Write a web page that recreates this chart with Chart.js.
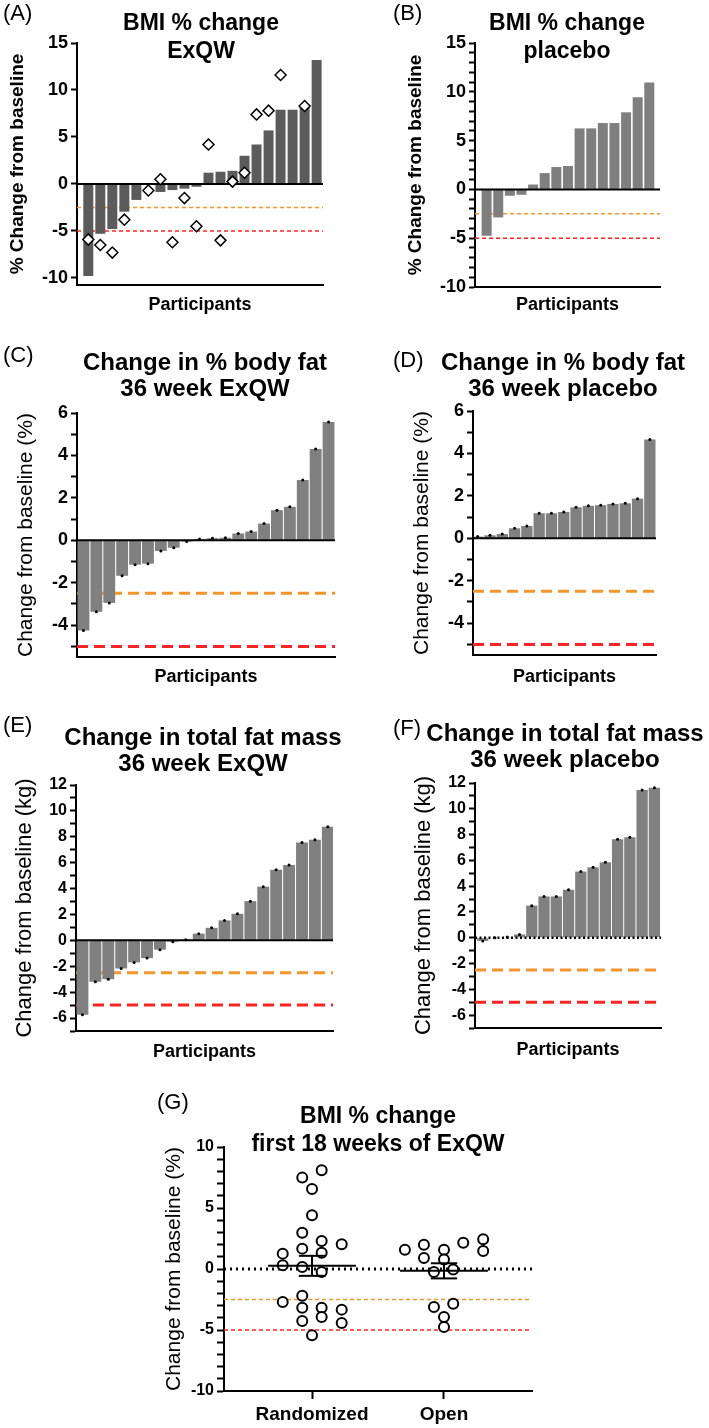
<!DOCTYPE html>
<html>
<head>
<meta charset="utf-8">
<title>Change from baseline by participant</title>
<script src="https://cdn.jsdelivr.net/npm/chart.js@4.4.1/dist/chart.umd.min.js"></script>
<style>
  body { margin: 0; background: #fff; font-family: "Liberation Sans", Arial, sans-serif; }
  #fig { position: relative; width: 709px; height: 1428px; overflow: hidden; }
  #fig canvas { position: absolute; }
  .tag { position: absolute; font-size: 22px; line-height: 24px; color: #000; }
  .head { position: absolute; font-weight: bold; font-size: 23px; line-height: 28px; text-align: center; white-space: nowrap; transform: translateX(-50%); color: #000; }
  .head.big { font-size: 24px; line-height: 26px; }
</style>
</head>
<body>
<div id="fig">
  <canvas id="chA" width="340" height="320" style="left:0;top:0"></canvas>
  <canvas id="chB" width="369" height="320" style="left:340px;top:0"></canvas>
  <canvas id="chC" width="340" height="375" style="left:0;top:320px"></canvas>
  <canvas id="chD" width="369" height="375" style="left:340px;top:320px"></canvas>
  <canvas id="chE" width="340" height="375" style="left:0;top:695px"></canvas>
  <canvas id="chF" width="369" height="375" style="left:340px;top:695px"></canvas>
  <canvas id="chG" width="420" height="358" style="left:150px;top:1070px"></canvas>

  <div class="tag" style="left:3px;top:1px">(A)</div>
  <div class="head" style="left:201px;top:8px">BMI % change<br>ExQW</div>
  <div class="tag" style="left:393px;top:1px">(B)</div>
  <div class="head" style="left:567px;top:8px">BMI % change<br>placebo</div>

  <div class="tag" style="left:3px;top:343px">(C)</div>
  <div class="head big" style="left:205px;top:349px">Change in % body fat<br>36 week ExQW</div>
  <div class="tag" style="left:393px;top:348px">(D)</div>
  <div class="head big" style="left:563px;top:349px">Change in % body fat<br>36 week placebo</div>

  <div class="tag" style="left:3px;top:713px">(E)</div>
  <div class="head big" style="left:203px;top:724px">Change in total fat mass<br>36 week ExQW</div>
  <div class="tag" style="left:393px;top:716px">(F)</div>
  <div class="head big" style="left:565px;top:720px">Change in total fat mass<br>36 week placebo</div>

  <div class="tag" style="left:157px;top:1090px">(G)</div>
  <div class="head" style="left:378px;top:1101px">BMI % change<br>first 18 weeks of ExQW</div>
</div>

<script>
// participants are sorted by change, one value per bar
const bmiExqw = [-9.8, -5.3, -4.8, -2.95, -1.7, null, -0.85, -0.65, -0.5, -0.3,
                 1.2, 1.3, 1.4, 3.0, 4.2, 5.7, 7.9, 7.9, 8.3, 13.2];
const bmiExqwDiamonds = [-5.9, -6.5, -7.3, -3.8, null, -0.7, 0.5, -6.2, -1.5, -4.5,
                         4.2, -6.0, 0.25, 1.2, 7.4, 7.8, 11.6, null, 8.3, null];
const bmiPlacebo = [-4.75, -2.87, -0.65, -0.55, 0.5, 1.67, 2.3, 2.4, 6.25, 6.25,
                    6.8, 6.8, 7.9, 9.45, 10.95];

const fatPctExqw = [-4.25, -3.37, -2.95, -1.67, -1.15, -1.1, -0.5, -0.35, -0.06, 0.06,
                    0.1, 0.12, 0.32, 0.41, 0.79, 1.42, 1.58, 2.84, 4.3, 5.58];
const fatPctPlacebo = [0.08, 0.14, 0.2, 0.47, 0.58, 1.18, 1.18, 1.24, 1.46, 1.53,
                       1.56, 1.62, 1.65, 1.87, 4.66];

const fatMassExqw = [-5.75, -3.2, -3.0, -2.17, -1.7, -1.37, -0.72, -0.1, 0.05, 0.52,
                     0.97, 1.54, 2.05, 3.03, 4.15, 5.46, 5.82, 7.56, 7.77, 8.77];
const fatMassPlacebo = [-0.25, 0.0, 0.05, 0.26, 2.49, 3.2, 3.2, 3.72, 5.13, 5.46,
                        5.85, 7.64, 7.8, 11.46, 11.64];

// panel G: first 18 weeks, x is the group (1, 2) plus scatter jitter
const groupNames = ['Randomized', 'Open'];
const randomizedX = [1.073, 0.926, 1.0, 1.0, 0.926, 1.073, 1.225, 0.778, 0.926, 1.073, 0.778,
                     0.926, 1.073, 0.778, 0.926, 0.926, 1.073, 1.225, 0.926, 1.073, 1.225, 1.0];
const randomizedBmi = [8.09, 7.49, 6.56, 4.4, 2.98, 2.3, 2.02, 1.26, 1.67, 1.34, 0.3,
                       0.16, -0.25, -2.7, -2.2, -3.17, -3.17, -3.33, -4.26, -3.93, -4.43, -5.44];
const openX = [1.704, 1.848, 2.0, 2.146, 2.297, 2.297, 1.848, 2.0, 1.924, 2.07, 1.924, 2.07, 2.0, 2.0];
const openBmi = [1.58, 1.99, 1.58, 2.16, 2.43, 1.47, 0.9, 0.77, -0.25, -0.05, -3.11, -2.84, -3.93, -4.75];
const groupMean = [0.26, -0.15];
const groupSem = [0.82, 0.62];

// response thresholds
const thresholds = [-2.5, -5];

Chart.defaults.font.family = '"Liberation Sans", Arial, sans-serif';
Chart.defaults.color = '#000';

const ORANGE = '#f6962a';
const RED = '#ff2323';

function strokeLevels(chart, levels) {
  if (!levels) return;
  const { ctx, chartArea, scales } = chart;
  levels.forEach(l => {
    const y = scales.y.getPixelForValue(l.value);
    ctx.save();
    ctx.strokeStyle = l.color;
    ctx.lineWidth = l.width;
    ctx.setLineDash(l.dash || []);
    ctx.beginPath();
    ctx.moveTo(chartArea.left, y);
    ctx.lineTo(chartArea.right, y);
    ctx.stroke();
    ctx.restore();
  });
}

const guideLines = {
  id: 'guideLines',
  beforeDatasetsDraw(chart, args, opts) { strokeLevels(chart, opts.below); },
  afterDatasetDraw(chart, args, opts) { if (args.index === 0) strokeLevels(chart, opts.above); }
};

const meanSem = {
  id: 'meanSem',
  afterDatasetsDraw(chart, args, opts) {
    if (!opts.means) return;
    const { ctx, scales: { x, y } } = chart;
    const seg = (x0, y0, x1, y1) => {
      ctx.beginPath();
      ctx.moveTo(x.getPixelForValue(x0), y.getPixelForValue(y0));
      ctx.lineTo(x.getPixelForValue(x1), y.getPixelForValue(y1));
      ctx.stroke();
    };
    ctx.save();
    ctx.strokeStyle = '#000';
    ctx.lineWidth = 2;
    opts.means.forEach((m, i) => {
      const g = i + 1, s = opts.sems[i];
      seg(g - 0.333, m, g + 0.333, m);
      seg(g, m - s, g, m + s);
      seg(g - 0.1, m + s, g + 0.1, m + s);
      seg(g - 0.1, m - s, g + 0.1, m - s);
    });
    ctx.restore();
  }
};

Chart.register(guideLines, meanSem);

function thresholdLines(thick) {
  const cols = [ORANGE, RED];
  return thresholds.map((v, i) => ({
    value: v, color: cols[i],
    width: thick ? 3 : 1.5,
    dash: thick ? [11, 6] : [4, 3]
  }));
}

function points(values) {
  return values.map((v, i) => ({ x: i + 1, y: v }));
}

function barPanel(id, p) {
  const datasets = [{
    type: 'bar',
    data: points(p.values),
    backgroundColor: p.barColor,
    barPercentage: p.barPct,
    categoryPercentage: 1,
    order: 2
  }];
  if (p.diamonds) {
    datasets.push({
      type: 'scatter', data: points(p.diamonds), pointStyle: 'rectRot',
      pointRadius: 5.5, borderWidth: 1.5, borderColor: '#000', backgroundColor: '#fff', order: 0
    });
  }
  if (p.caps) {
    datasets.push({
      type: 'scatter', data: points(p.values), pointRadius: 1.5,
      borderWidth: 0, backgroundColor: '#000', order: 1
    });
  }

  const zero = p.dottedZero
    ? { value: 0, color: '#000', width: 2.5, dash: [2, 2.5] }
    : { value: 0, color: '#000', width: 2 };

  return new Chart(document.getElementById(id), {
    type: 'bar',
    data: { datasets },
    options: {
      responsive: false,
      animation: false,
      layout: { padding: p.pad },
      plugins: {
        legend: { display: false },
        tooltip: { enabled: false },
        guideLines: { below: thresholdLines(p.thick), above: [zero] }
      },
      scales: {
        x: {
          type: 'linear', offset: false, position: 'bottom',
          min: p.xMin, max: p.xMax,
          ticks: { display: false, stepSize: 1, includeBounds: false },
          grid: { display: false },
          border: { display: true, color: '#000', width: 2 },
          title: {
            display: true, text: 'Participants', color: '#000',
            font: { size: 18, weight: 'bold' },
            padding: { top: 0, bottom: p.xTitlePad }
          },
          afterFit: s => { s.height = p.xAxisH; }
        },
        y: {
          min: p.yMin, max: p.yMax,
          ticks: {
            stepSize: p.step, includeBounds: false, autoSkip: false, padding: 3, color: '#000',
            font: { size: p.tickSize, weight: 'bold' },
            callback: v => (v % p.labelEvery === 0 ? v : '')
          },
          grid: { drawOnChartArea: false, drawTicks: true, tickLength: 6, tickColor: '#000', tickWidth: 2 },
          border: { display: true, color: '#000', width: 2 },
          title: {
            display: true, text: p.yTitle, color: '#000',
            font: { size: p.yTitleSize, weight: p.yTitleBold ? 'bold' : 'normal' },
            padding: { top: 6, bottom: 0 }
          },
          afterFit: s => { s.width = p.yAxisW; }
        }
      }
    }
  });
}

barPanel('chA', {
  values: bmiExqw, diamonds: bmiExqwDiamonds, barColor: '#5b5b5b', barPct: 0.83,
  pad: { left: 0, top: 43, right: 17, bottom: 0 }, yAxisW: 77, xAxisH: 35, xTitlePad: 4,
  xMin: 0.06, xMax: 20.53, yMin: -10.75, yMax: 15, step: 5, labelEvery: 5, tickSize: 18,
  yTitle: '% Change from baseline', yTitleSize: 19, yTitleBold: true, thick: false
});

barPanel('chB', {
  values: bmiPlacebo, barColor: '#7f7f7f', barPct: 0.86,
  pad: { left: 58, top: 43, right: 49, bottom: 0 }, yAxisW: 77, xAxisH: 33, xTitlePad: 4,
  xMin: 0, xMax: 15.92, yMin: -10, yMax: 15, step: 1, labelEvery: 5, tickSize: 18,
  yTitle: '% Change from baseline', yTitleSize: 19, yTitleBold: true, thick: false
});

barPanel('chC', {
  values: fatPctExqw, caps: true, barColor: '#808080', barPct: 0.92,
  pad: { left: 8, top: 93, right: 5, bottom: 0 }, yAxisW: 69, xAxisH: 38, xTitlePad: 7,
  xMin: 0.5, xMax: 20.5, yMin: -5.5, yMax: 6, step: 1, labelEvery: 2, tickSize: 18,
  yTitle: 'Change from baseline (%)', yTitleSize: 21, thick: true
});

barPanel('chD', {
  values: fatPctPlacebo, caps: true, barColor: '#808080', barPct: 0.92,
  pad: { left: 64, top: 91, right: 53, bottom: 0 }, yAxisW: 69, xAxisH: 40, xTitlePad: 7,
  xMin: 0.62, xMax: 15.5, yMin: -5.5, yMax: 6, step: 1, labelEvery: 2, tickSize: 18,
  yTitle: 'Change from baseline (%)', yTitleSize: 21, thick: true
});

barPanel('chE', {
  values: fatMassExqw, caps: true, barColor: '#808080', barPct: 0.92,
  pad: { left: 6, top: 90, right: 7, bottom: 0 }, yAxisW: 70, xAxisH: 39, xTitlePad: 7,
  xMin: 0.5, xMax: 20.4, yMin: -7, yMax: 12, step: 1, labelEvery: 2, tickSize: 16,
  yTitle: 'Change from baseline (kg)', yTitleSize: 22, thick: true
});

barPanel('chF', {
  values: fatMassPlacebo, caps: true, dottedZero: true, barColor: '#808080', barPct: 0.92,
  pad: { left: 65, top: 88, right: 48, bottom: 0 }, yAxisW: 70, xAxisH: 42, xTitlePad: 9,
  xMin: 0.37, xMax: 15.54, yMin: -7, yMax: 12, step: 1, labelEvery: 2, tickSize: 16,
  yTitle: 'Change from baseline (kg)', yTitleSize: 22, thick: true
});

const circleStyle = {
  pointStyle: 'circle', pointRadius: 5, borderWidth: 2,
  borderColor: '#000', backgroundColor: '#fff'
};

new Chart(document.getElementById('chG'), {
  type: 'scatter',
  data: {
    datasets: [
      Object.assign({ data: randomizedX.map((x, i) => ({ x, y: randomizedBmi[i] })) }, circleStyle),
      Object.assign({ data: openX.map((x, i) => ({ x, y: openBmi[i] })) }, circleStyle)
    ]
  },
  options: {
    responsive: false,
    animation: false,
    layout: { padding: { left: 6, top: 77, right: 38, bottom: 0 } },
    plugins: {
      legend: { display: false },
      tooltip: { enabled: false },
      guideLines: {
        below: [{ value: 0, color: '#000', width: 3, dash: [2, 4] }].concat(thresholdLines(false))
      },
      meanSem: { means: groupMean, sems: groupSem }
    },
    scales: {
      x: {
        type: 'linear', min: 0.333, max: 2.667,
        ticks: {
          stepSize: 1, includeBounds: false, autoSkip: false, padding: 4, color: '#000',
          font: { size: 19, weight: 'bold' },
          callback: v => groupNames[v - 1] || ''
        },
        grid: { drawOnChartArea: false, drawTicks: true, tickLength: 8, tickColor: '#000', tickWidth: 2 },
        border: { display: true, color: '#000', width: 2 },
        afterFit: s => { s.height = 37; }
      },
      y: {
        min: -10, max: 10,
        ticks: {
          stepSize: 1, includeBounds: false, autoSkip: false, padding: 3, color: '#000',
          font: { size: 16, weight: 'bold' },
          callback: v => (v % 5 === 0 ? v : '')
        },
        grid: { drawOnChartArea: false, drawTicks: true, tickLength: 7, tickColor: '#000', tickWidth: 2 },
        border: { display: true, color: '#000', width: 2 },
        title: {
          display: true, text: 'Change from baseline (%)', color: '#000',
          font: { size: 21, weight: 'normal' },
          padding: { top: 6, bottom: 0 }
        },
        afterFit: s => { s.width = 68; }
      }
    }
  }
});
</script>
</body>
</html>
